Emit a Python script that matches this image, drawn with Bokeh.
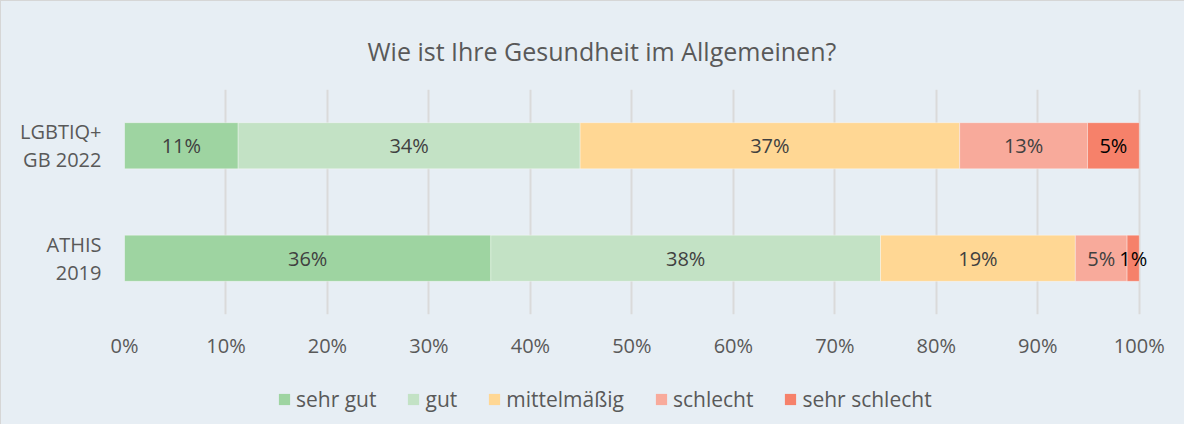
from bokeh.plotting import figure
from bokeh.layouts import column
from bokeh.models import (FactorRange, Range1d, ColumnDataSource, LabelSet,
                          Legend, LegendItem, FixedTicker)
from bokeh.core.properties import value
from bokeh.embed import file_html
from bokeh.resources import INLINE

# ---------------- data ----------------
categories = ["ATHIS\n2019", "LGBTIQ+\nGB 2022"]          # bottom -> top
series = ["sehr gut", "gut", "mittelmäßig", "schlecht", "sehr schlecht"]
lgbtiq_2022 = [11.2, 33.7, 37.4, 12.6, 5.1]
athis_2019 = [36.1, 38.4, 19.2, 5.1, 1.2]
tick_values = [0, 10, 20, 30, 40, 50, 60, 70, 80, 90, 100]
tick_labels = ["0%", "10%", "20%", "30%", "40%", "50%", "60%", "70%", "80%", "90%", "100%"]
title_text = "Wie ist Ihre Gesundheit im Allgemeinen?"

# ---------------- styles ----------------
colors = ["#9ED4A1", "#C3E2C5", "#FFD794", "#F8AA9B", "#F6816A"]
label_colors = ["#404040", "#404040", "#404040", "#404040", "#000000"]
BG = "#E7EEF4"
FONT = "Open Sans"
GRAY = "#595959"

values_by_cat = {categories[0]: athis_2019, categories[1]: lgbtiq_2022}

data = {"cat": categories}
for i, s in enumerate(series):
    data[s] = [values_by_cat[c][i] for c in categories]
src = ColumnDataSource(data)

# x range a little past 100 so the small "1%" label is not clipped at the frame edge
p = figure(width=1183, height=370, title=title_text,
           y_range=FactorRange(*categories), x_range=Range1d(0, 101.5),
           output_backend="svg", toolbar_location=None,
           min_border_left=123, min_border_right=30,
           min_border_top=88, min_border_bottom=57)
p.background_fill_color = BG
p.border_fill_color = BG
p.outline_line_color = None

# title
p.title.align = "left"
p.title.offset = 243
p.title.vertical_align = "top"
p.title.standoff = 39
p.title.text_font = FONT
p.title.text_font_size = "25px"
p.title.text_font_style = "normal"
p.title.text_color = GRAY

renderers = p.hbar_stack(series, y="cat", height=0.41, color=colors, source=src,
                         line_color="#FFFFFF", line_alpha=0.35, line_width=1)

# data labels
lx, ly, lt, lc = [], [], [], []
for c in categories:
    start = 0.0
    for i, v in enumerate(values_by_cat[c]):
        lx.append(start + v / 2.0)
        ly.append(c)
        lt.append(f"{v:.0f}%")
        lc.append(label_colors[i])
        start += v
lsrc = ColumnDataSource(dict(x=lx, y=ly, text=lt, color=lc))
p.add_layout(LabelSet(x="x", y="y", text="text", source=lsrc, text_color="color",
                      text_align="center", text_baseline="middle",
                      text_font=value(FONT), text_font_size=value("20px")))

# axes
xt = FixedTicker(ticks=tick_values)
p.xaxis.ticker = xt
p.xaxis.major_label_overrides = {v: l for v, l in zip(tick_values, tick_labels)}
p.xaxis.axis_line_color = None
p.xaxis.major_tick_line_color = None
p.xaxis.minor_tick_line_color = None
p.xaxis.major_tick_out = 0
p.xaxis.major_label_standoff = 17
p.xaxis.major_label_text_font = FONT
p.xaxis.major_label_text_font_size = "20px"
p.xaxis.major_label_text_color = GRAY

p.yaxis.axis_line_color = None
p.yaxis.major_tick_line_color = None
p.yaxis.minor_tick_line_color = None
p.yaxis.major_tick_out = 0
p.yaxis.major_label_standoff = 23
p.yaxis.major_label_text_font = FONT
p.yaxis.major_label_text_font_size = "20px"
p.yaxis.major_label_text_color = GRAY
p.yaxis.major_label_text_line_height = 1.05

p.xgrid.ticker = xt
p.xgrid.grid_line_color = "#DADADA"
p.xgrid.grid_line_width = 2
p.ygrid.grid_line_color = None

# legend strip (separate figure so the legend is not clipped by the main frame)
leg = figure(width=1183, height=53, output_backend="svg", toolbar_location=None,
             x_range=Range1d(0, 1), y_range=Range1d(0, 1),
             x_axis_location=None, y_axis_location=None, min_border=0)
leg.background_fill_color = BG
leg.border_fill_color = BG
leg.outline_line_color = None
leg.grid.grid_line_color = None
# zero-size key glyphs (only used to draw the legend swatches)
key_renderers = [leg.hbar(y=[0.5], left=[0], right=[0], height=0, fill_color=c,
                          line_alpha=0) for c in colors]
items = [LegendItem(label=s, renderers=[r]) for s, r in zip(series, key_renderers)]
legend = Legend(items=items, orientation="horizontal", location=(153, 11),
                glyph_width=14, glyph_height=14, label_standoff=5, spacing=30,
                padding=0, margin=0, border_line_color=None, background_fill_alpha=0,
                label_text_font=FONT, label_text_font_size="21px", label_text_color=GRAY)
leg.add_layout(legend)

layout = column(p, leg, spacing=0)
layout.styles = {"border-left": "1px solid #D6D6D6", "border-top": "1px solid #D6D6D6",
                 "background-color": BG}

open("out.html", "w").write(file_html(layout, INLINE))
